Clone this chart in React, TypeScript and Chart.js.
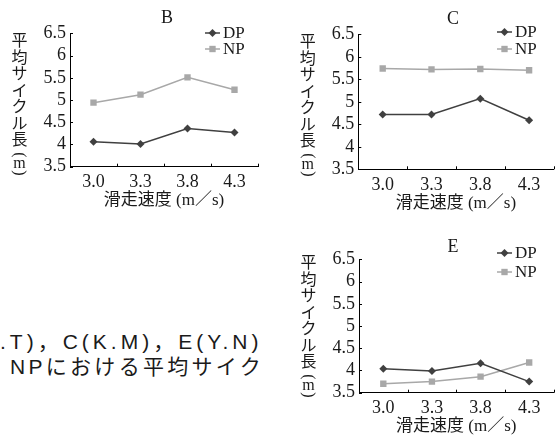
import React, { useEffect, useRef } from 'react';
import { Chart, registerables } from 'chart.js';
Chart.register(...registerables);

// ---- data ----
const speeds = ['3.0', '3.3', '3.8', '4.3'];
const yTicks = [3.5, 4, 4.5, 5, 5.5, 6, 6.5];
const seriesNames = ['DP', 'NP'];
const bDP = [4.06, 4.01, 4.36, 4.27];
const bNP = [4.94, 5.12, 5.51, 5.23];
const cDP = [4.72, 4.72, 5.07, 4.59];
const cNP = [5.74, 5.72, 5.73, 5.7];
const eDP = [4.04, 3.99, 4.16, 3.75];
const eNP = [3.7, 3.75, 3.86, 4.18];
const yTitleChars = ['平', '均', 'サ', 'イ', 'ク', 'ル', '長'];
const yTitleUnit = ['(', 'm', ')'];
const xTitle = '滑走速度 (m／s)';
const captionLine1 = '.T)，C(K.M)，E(Y.N)';
const captionLine2 = 'NPにおける平均サイク';

const DP_COLOR = '#404040';
const NP_COLOR = '#a8a8a8';
const SERIF = '"Liberation Serif", "Noto Sans CJK JP", serif';

type Panel = {
  title: string;
  dp: number[];
  np: number[];
  box: { left: number; top: number; width: number; height: number };
  area: { left: number; top: number; right: number; bottom: number };
  titlePos: { x: number; y: number };
  legend: { x: number; y: number; gap: number };
  yTitleTop: number;
};

const panels: Panel[] = [
  {
    title: 'B', dp: bDP, np: bNP,
    box: { left: 0, top: 0, width: 280, height: 220 },
    area: { left: 70, top: 33.3, right: 258, bottom: 166.7 },
    titlePos: { x: 167, y: 18 },
    legend: { x: 205, y: 33, gap: 16 },
    yTitleTop: 40,
  },
  {
    title: 'C', dp: cDP, np: cNP,
    box: { left: 280, top: 0, width: 278, height: 220 },
    area: { left: 78.3, top: 34.3, right: 274, bottom: 169.3 },
    titlePos: { x: 173, y: 19 },
    legend: { x: 217, y: 32, gap: 17 },
    yTitleTop: 41,
  },
  {
    title: 'E', dp: eDP, np: eNP,
    box: { left: 280, top: 220, width: 278, height: 216 },
    area: { left: 79, top: 39.3, right: 275, bottom: 172.7 },
    titlePos: { x: 173, y: 27 },
    legend: { x: 217, y: 33, gap: 19 },
    yTitleTop: 42,
  },
];

function drawMarker(ctx: CanvasRenderingContext2D, style: string, x: number, y: number, r: number, color: string) {
  ctx.beginPath();
  if (style === 'rectRot') {
    ctx.moveTo(x, y - r);
    ctx.lineTo(x + r, y);
    ctx.lineTo(x, y + r);
    ctx.lineTo(x - r, y);
    ctx.closePath();
  } else {
    const s = r * Math.SQRT1_2;
    ctx.rect(x - s, y - s, 2 * s, 2 * s);
  }
  ctx.fillStyle = color;
  ctx.fill();
}

const decor = {
  id: 'decor',
  afterDraw(chart: any, _args: any, opts: any) {
    const { ctx, chartArea: a, scales } = chart;
    const x = scales.x;
    const y = scales.y;
    ctx.save();
    // inward tick marks
    ctx.strokeStyle = '#000';
    ctx.lineWidth = 1;
    ctx.beginPath();
    const step = x.getPixelForValue(1) - x.getPixelForValue(0);
    for (let i = 0; i < speeds.length; i++) {
      const px = Math.round(x.getPixelForValue(i) + step / 2) + 0.5;
      ctx.moveTo(px, a.bottom);
      ctx.lineTo(px, a.bottom - 3);
    }
    y.ticks.forEach((t: any) => {
      const py = Math.round(y.getPixelForValue(t.value)) + 0.5;
      ctx.moveTo(a.left, py);
      ctx.lineTo(a.left + 3, py);
    });
    ctx.stroke();

    ctx.fillStyle = '#1a1a1a';
    ctx.textAlign = 'center';
    ctx.textBaseline = 'middle';
    // panel title
    ctx.font = '18px ' + SERIF;
    ctx.fillText(opts.title, opts.titlePos.x, opts.titlePos.y);
    // x axis title
    ctx.font = '17px ' + SERIF;
    ctx.fillText(xTitle, (a.left + a.right) / 2, a.bottom + 34);
    // y axis title (vertical)
    const tx = a.left - 50.5;
    const stepY = 16.5;
    ctx.font = '16px "Noto Sans CJK JP", sans-serif';
    yTitleChars.forEach((c, i) => {
      ctx.fillText(c, tx, opts.yTitleTop + i * stepY);
    });
    const base = opts.yTitleTop + (yTitleChars.length - 1) * stepY;
    ctx.font = '16px ' + SERIF;
    yTitleUnit.forEach((c, i) => {
      const cy = base + 16 + i * 9;
      if (c === 'm') {
        ctx.fillText(c, tx, cy);
      } else {
        ctx.save();
        ctx.translate(tx, cy);
        ctx.rotate(Math.PI / 2);
        ctx.fillText(c, 0, 0);
        ctx.restore();
      }
    });
    // legend
    ctx.font = '17px ' + SERIF;
    ctx.textAlign = 'left';
    chart.data.datasets.forEach((ds: any, i: number) => {
      const ly = opts.legend.y + i * opts.legend.gap;
      const lx = opts.legend.x;
      ctx.strokeStyle = ds.borderColor;
      ctx.lineWidth = 1.5;
      ctx.beginPath();
      ctx.moveTo(lx, ly);
      ctx.lineTo(lx + 15, ly);
      ctx.stroke();
      drawMarker(ctx, ds.pointStyle, lx + 7.5, ly, ds.pointRadius, ds.borderColor);
      ctx.fillStyle = '#1a1a1a';
      ctx.fillText(ds.label, lx + 18, ly + 1);
    });
    ctx.restore();
  },
};

function PanelChart({ p }: { p: Panel }) {
  const ref = useRef<HTMLCanvasElement>(null);
  useEffect(() => {
    const canvas = ref.current!;
    const chart = new Chart(canvas, {
      type: 'line',
      data: {
        labels: speeds,
        datasets: [
          {
            label: seriesNames[0], data: p.dp, borderColor: DP_COLOR, backgroundColor: DP_COLOR,
            borderWidth: 1.5, pointStyle: 'rectRot', pointRadius: 4, pointBorderWidth: 0, tension: 0,
          },
          {
            label: seriesNames[1], data: p.np, borderColor: NP_COLOR, backgroundColor: NP_COLOR,
            borderWidth: 1.5, pointStyle: 'rect', pointRadius: 4.5, pointBorderWidth: 0, tension: 0,
          },
        ],
      },
      options: {
        responsive: false,
        animation: false,
        devicePixelRatio: 1,
        layout: {
          padding: { left: 0, top: p.area.top, right: p.box.width - p.area.right, bottom: 0 },
        },
        plugins: {
          legend: { display: false },
          title: { display: false },
          tooltip: { enabled: false },
          decor: { title: p.title, titlePos: p.titlePos, legend: p.legend, yTitleTop: p.yTitleTop },
        } as any,
        scales: {
          x: {
            type: 'category',
            offset: true,
            grid: { display: false, drawTicks: false },
            border: { display: true, color: '#000', width: 1 },
            ticks: { padding: 5, color: '#1a1a1a', font: { family: SERIF, size: 18 }, maxRotation: 0, autoSkip: false },
            afterFit: (s: any) => { s.height = p.box.height - p.area.bottom; },
          },
          y: {
            min: 3.5,
            max: 6.5,
            grid: { display: false, drawTicks: false },
            border: { display: true, color: '#000', width: 1 },
            afterBuildTicks: (s: any) => { s.ticks = yTicks.map((v) => ({ value: v })); },
            ticks: {
              padding: 4,
              autoSkip: false,
              color: '#1a1a1a',
              font: { family: SERIF, size: 18 },
              callback: (v: any) => String(Number(v)),
            },
            afterFit: (s: any) => { s.width = p.area.left; },
          },
        },
      },
      plugins: [decor],
    });
    return () => chart.destroy();
  }, [p]);
  return (
    <canvas
      ref={ref}
      width={p.box.width}
      height={p.box.height}
      style={{ position: 'absolute', left: p.box.left, top: p.box.top, width: p.box.width, height: p.box.height }}
    />
  );
}

export default function App() {
  useEffect(() => {
    document.body.style.margin = '0';
  }, []);
  return (
    <div style={{ position: 'absolute', left: 0, top: 0, width: 558, height: 436, background: '#fff', overflow: 'hidden' }}>
      {panels.map((p) => (
        <PanelChart key={p.title} p={p} />
      ))}
      <div
        style={{
          position: 'absolute', left: 0, top: 329, whiteSpace: 'nowrap',
          font: '21px "Liberation Sans", "Noto Sans CJK JP", sans-serif', letterSpacing: '4px', color: '#1a1a1a', lineHeight: '26px',
        }}
      >
        {captionLine1}
      </div>
      <div
        style={{
          position: 'absolute', left: 10, top: 354, whiteSpace: 'nowrap',
          font: '21px "Liberation Sans", "Noto Sans CJK JP", sans-serif', letterSpacing: '3.3px', color: '#1a1a1a', lineHeight: '26px',
        }}
      >
        {captionLine2}
      </div>
    </div>
  );
}
